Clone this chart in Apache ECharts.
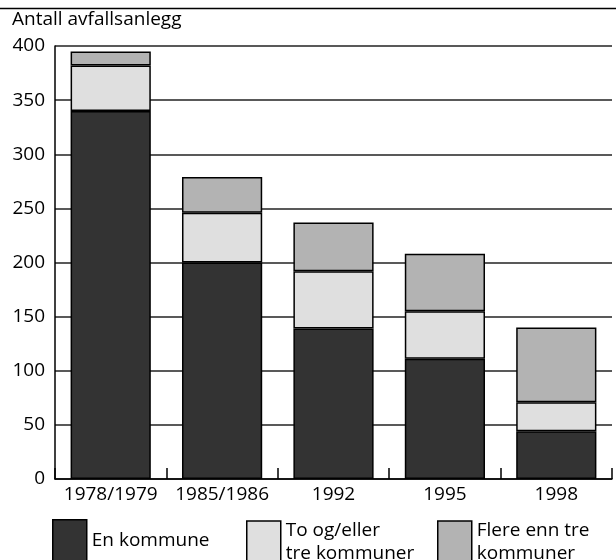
<!DOCTYPE html>
<html>
<head>
<meta charset="utf-8">
<script src="https://cdn.jsdelivr.net/npm/echarts@6/dist/echarts.min.js"></script>
<style>html,body{margin:0;padding:0;background:#fff}#c{width:616px;height:560px}</style>
</head>
<body>
<div id="c"></div>
<script>
const categories = ['1978/1979', '1985/1986', '1992', '1995', '1998'];
const enKommune = [340, 200, 139, 111, 44];
const toTreKommuner = [42, 46, 53, 44, 27];
const flereEnnTre = [13, 33, 45, 53, 69];
const seriesNames = ['En kommune', 'To og/eller tre kommuner', 'Flere enn tre kommuner'];
const legendLabels = ['En kommune', 'To og/eller\ntre kommuner', 'Flere enn tre\nkommuner'];
const colors = ['#333333', '#dfdfdf', '#b3b3b3'];
const yTicks = [0, 50, 100, 150, 200, 250, 300, 350, 400];

const FONT = '"Open Sans", sans-serif';
const FS = 19;
const chart = echarts.init(document.getElementById('c'), null, {renderer: 'canvas'});
const data = [enKommune, toTreKommuner, flereEnnTre];
const legendLeft = [52, 246, 437];

chart.setOption({
  animation: false,
  backgroundColor: '#fff',
  textStyle: {fontFamily: FONT},
  title: {
    text: 'Antall avfallsanlegg',
    left: 12, top: 10, padding: 0,
    textStyle: {fontFamily: FONT, fontSize: FS, fontWeight: 'normal', color: '#000'}
  },
  graphic: [{
    type: 'line', shape: {x1: 0, y1: 8.5, x2: 616, y2: 8.5},
    style: {stroke: '#000', lineWidth: 1.5}
  }],
  grid: {left: 55, right: 4, top: 46, bottom: 81, containLabel: false},
  legend: seriesNames.map((n, i) => ({
    data: [n],
    left: legendLeft[i], top: 519,
    padding: 0,
    icon: 'rect',
    itemWidth: 34, itemHeight: 42,
    itemGap: 5,
    formatter: () => legendLabels[i],
    itemStyle: {borderColor: '#000', borderWidth: 1.5},
    textStyle: {fontFamily: FONT, fontSize: FS, color: '#000', lineHeight: 23, padding: [0, 0, 0, 0]}
  })),
  xAxis: {
    type: 'category',
    data: categories,
    axisLine: {lineStyle: {color: '#000', width: 1.5}},
    axisTick: {show: true, inside: true, length: 11, lineStyle: {color: '#000', width: 1.5}},
    axisLabel: {fontFamily: FONT, fontSize: FS, color: '#000', margin: 6, interval: 0}
  },
  yAxis: {
    type: 'value',
    min: 0, max: 400, interval: 50,
    axisLine: {show: true, lineStyle: {color: '#000', width: 1.5}},
    axisTick: {show: false},
    splitLine: {show: true, lineStyle: {color: '#222', width: 1.5}},
    axisLabel: {fontFamily: FONT, fontSize: FS, color: '#000', margin: 10,
      formatter: v => yTicks.includes(v) ? String(v) : ''}
  },
  series: seriesNames.map((n, i) => ({
    name: n,
    type: 'bar',
    stack: 'total',
    barWidth: '72%',
    data: data[i],
    itemStyle: {color: colors[i], borderColor: '#000', borderWidth: 1.5}
  }))
});
</script>
</body>
</html>
